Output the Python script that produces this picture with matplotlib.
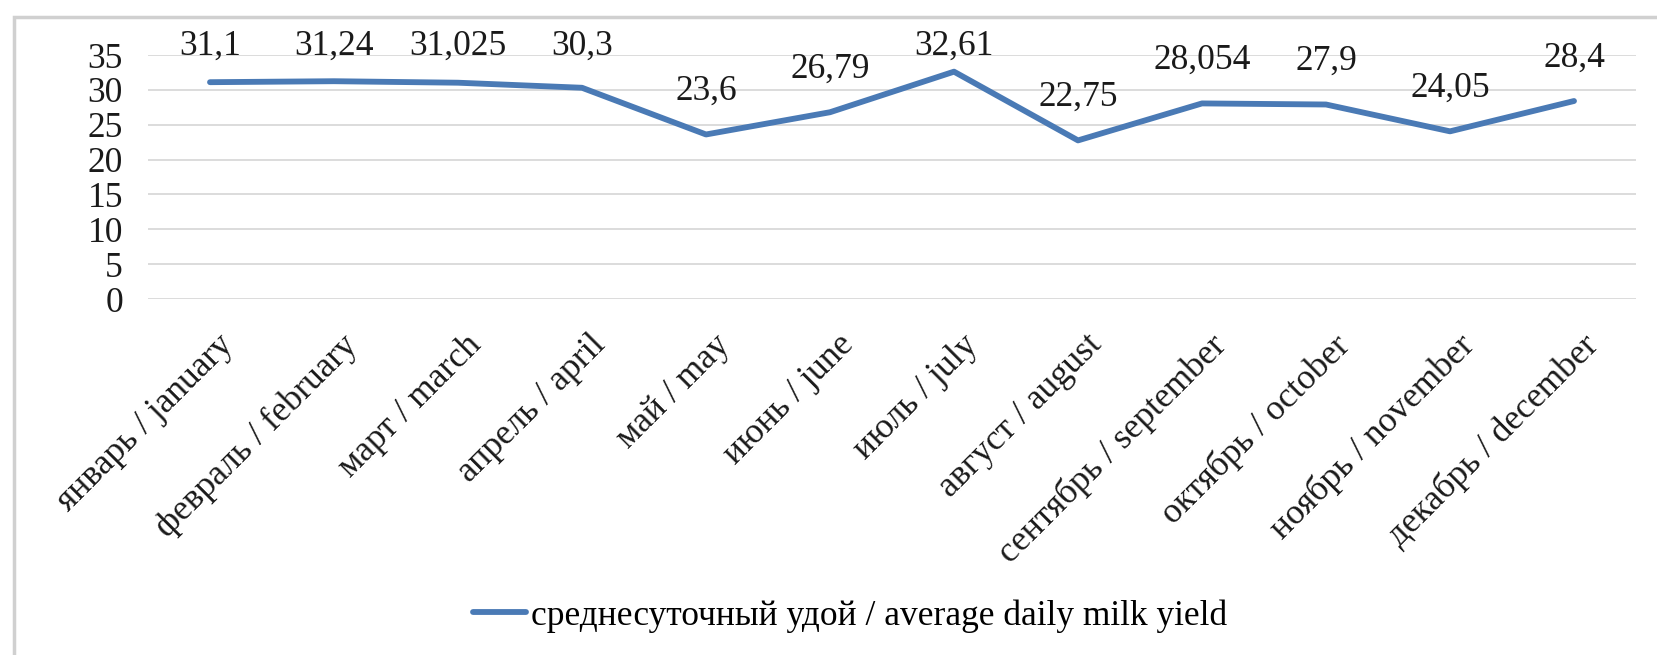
import matplotlib
matplotlib.use('Agg')
import matplotlib.pyplot as plt
import matplotlib.transforms as mtransforms
from matplotlib.patches import Rectangle

# данные: среднесуточный удой по месяцам
months = ['январь / january', 'февраль / february', 'март / march', 'апрель / april',
          'май / may', 'июнь / june', 'июль / july', 'август / august',
          'сентябрь / september', 'октябрь / october', 'ноябрь / november',
          'декабрь / december']
milk_yield = [31.1, 31.24, 31.025, 30.3, 23.6, 26.79, 32.61, 22.75, 28.054, 27.9, 24.05, 28.4]
yticks = [0, 5, 10, 15, 20, 25, 30, 35]
series_name = 'среднесуточный удой / average daily milk yield'

plt.rcParams['font.family'] = ['Liberation Serif', 'DejaVu Serif']
FS = 25.5

W, H = 1657, 655
fig = plt.figure(figsize=(W / 100, H / 100), dpi=100)
ax = fig.add_axes([148 / W, 1 - 299 / H, (1636 - 148) / W, (299 - 55) / H])

x = list(range(len(months)))
line, = ax.plot(x, milk_yield, color='#4a7ab5', lw=4.2, solid_capstyle='round',
                solid_joinstyle='round', label=series_name)

# подписи значений над точками (как в Excel: не выше края диаграммы)
label_gap = 6.2
label_top = 36.3
for xi, v in zip(x, milk_yield):
    ax.text(xi, min(v + label_gap, label_top), str(v).replace('.', ','),
            ha='center', va='center', fontsize=FS, color='#1a1a1a', clip_on=False)

ax.set_xlim(-0.5, len(months) - 0.5)
ax.set_ylim(0, 35)
ax.set_yticks(yticks)
ax.set_yticklabels([str(t) for t in yticks], fontsize=FS, color='#1a1a1a')
ax.set_xticks(x)
ax.set_xticklabels([])

# подписи месяцев под углом 45°
base = mtransforms.blended_transform_factory(ax.transData, ax.transAxes)
shift = mtransforms.ScaledTranslation(0.07, -0.295, fig.dpi_scale_trans)
for xi, m in zip(x, months):
    ax.text(xi, 0, m, transform=base + shift, rotation=45, rotation_mode='anchor',
            ha='right', va='top', fontsize=FS, color='#1a1a1a', clip_on=False)

ax.tick_params(axis='both', length=0)
ax.tick_params(axis='y', pad=18)
ax.grid(axis='y', color='#d9d9d9', lw=1.3)
ax.set_axisbelow(True)
for s in ax.spines.values():
    s.set_visible(False)

fig.legend(handles=[line], loc='center', bbox_to_anchor=(850 / W, 1 - 616 / H),
           frameon=False, fontsize=FS, handlelength=1.5, handletextpad=0.15)

# рамка области диаграммы
fig.add_artist(Rectangle((14 / W, -0.1), 1.2, 1 - 17 / H + 0.1, transform=fig.transFigure,
                         fill=False, edgecolor='#d0d0d0', lw=2.5))

fig.savefig('out.png', dpi=100, facecolor='white')
